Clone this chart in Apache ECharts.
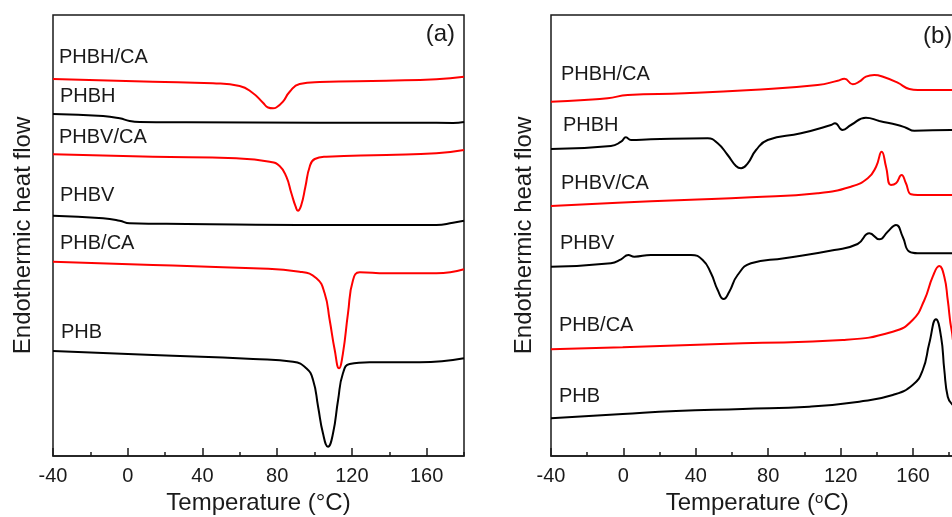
<!DOCTYPE html>
<html>
<head>
<meta charset="utf-8">
<script src="https://cdn.jsdelivr.net/npm/echarts@6/dist/echarts.min.js"></script>
<style>
  html, body { margin: 0; padding: 0; background: #fff; }
  #chart { width: 952px; height: 517px; }
</style>
</head>
<body>
<div id="chart"></div>
<script>
// temperature axis (°C)
const tempMin = -40
const tempMaxA = 180
const tempMaxB = 200
const tempStep = 40
const tempMinorStep = 20

// heat flow axis, arbitrary units
const flowMax = 44.1

// panel (a): [temperature, heat flow]
const aPHBHCA = [[-40,37.7],[13.5,37.43],[45.6,37.27],[59.9,37.0],[67.1,36.27],[72.4,35.33],[75.1,34.85],[77.8,34.77],[79.5,34.85],[83.1,35.43],[86.7,36.43],[92.0,37.2],[102.7,37.4],[138.4,37.53],[165.2,37.67],[180,37.93]]
const aPHBH = [[-40,34.2],[-13.2,34.0],[-4.3,33.77],[1.0,33.5],[6.4,33.4],[31.4,33.37],[102.7,33.33],[156.3,33.33],[174.1,33.3],[180,33.4]]
const aPHBVCA = [[-40,30.17],[13.5,29.93],[58.1,29.77],[76.0,29.43],[81.3,29.0],[84.9,27.93],[87.6,26.27],[89.9,24.93],[91.1,24.53],[92.9,25.1],[95.1,26.93],[97.4,28.93],[100.1,29.7],[106.3,29.93],[138.4,30.1],[165.2,30.27],[180,30.6]]
const aPHBV = [[-40,24.03],[-13.2,23.77],[-4.3,23.53],[1.0,23.27],[31.4,23.2],[102.7,23.1],[165.2,23.1],[174.1,23.33],[180,23.53]]
const aPHBCA = [[-40,19.43],[13.5,19.1],[67.1,18.77],[92.0,18.43],[101.0,17.77],[105.4,16.27],[108.1,13.6],[110.8,10.6],[113.1,8.77],[115.2,10.27],[117.9,14.27],[120.6,17.6],[124.2,18.37],[138.4,18.27],[165.2,18.27],[180,18.67]]
const aPHB = [[-40,10.5],[13.5,10.1],[67.1,9.7],[88.5,9.43],[95.6,8.77],[99.2,7.6],[101.9,4.93],[104.5,2.27],[107.2,0.93],[109.9,2.27],[112.6,5.6],[115.2,8.27],[118.8,9.2],[129.5,9.37],[156.3,9.37],[180,9.77]]

// panel (b)
const bPHBHCA = [[-40,35.43],[-21.6,35.6],[-8.7,35.77],[2.4,36.1],[33.7,36.27],[70.5,36.6],[107.3,37.1],[118.4,37.53],[122.1,37.73],[126.7,37.17],[130.3,37.43],[134.0,37.93],[138.6,38.1],[144.2,37.87],[151.5,37.33],[158.0,36.7],[162.6,36.6],[181.0,36.6],[196,36.6]]
const bPHBH = [[-40,30.7],[-6.9,31.0],[-1.3,31.43],[1.4,31.87],[4.2,31.6],[15.2,31.67],[46.6,31.77],[52.1,31.27],[57.6,30.1],[62.2,29.0],[65.0,28.77],[68.7,29.27],[73.3,30.6],[79.7,31.6],[98.1,32.27],[114.7,33.1],[116.9,33.27],[121.1,32.6],[125.7,33.1],[134.0,33.83],[141.4,33.5],[151.5,33.1],[156.1,32.83],[160.7,32.53],[181.0,32.6],[196,32.6]]
const bPHBVCA = [[-40,25.0],[-3.2,25.33],[33.7,25.6],[70.5,25.87],[107.3,26.27],[125.7,26.93],[135.0,27.77],[139.6,28.93],[142.7,30.43],[145.1,28.93],[147.8,27.1],[150.6,27.27],[153.7,28.1],[156.1,27.27],[158.9,26.17],[162.6,26.1],[181.0,26.1],[196,26.1]]
const bPHBV = [[-40,18.93],[-6.9,19.27],[-1.3,19.67],[2.7,20.1],[6.0,19.93],[15.2,20.1],[37.3,20.1],[43.8,19.6],[48.4,18.27],[52.1,16.6],[55.4,15.7],[58.5,16.43],[63.1,18.1],[70.5,19.27],[88.9,19.77],[116.5,20.6],[129.4,21.2],[135.9,22.27],[141.4,21.67],[146.0,22.43],[150.6,23.1],[154.3,21.93],[158.0,20.43],[162.6,20.27],[181.0,20.27],[196,20.27]]
const bPHBCA = [[-40,10.67],[-0.4,10.87],[65.9,11.27],[121.1,11.6],[148.8,12.43],[159.8,13.6],[166.3,15.6],[170.9,17.93],[174.5,19.0],[177.3,17.93],[179.2,15.6],[181.5,12.43],[184,11.2],[196,11.2]]
const bPHB = [[-40,3.77],[-0.4,4.2],[29.1,4.5],[65.9,4.7],[102.7,4.93],[130.3,5.43],[148.8,6.1],[159.8,7.1],[165.4,8.6],[169.0,11.27],[172.7,13.67],[175.5,11.93],[177.3,8.6],[179.2,5.93],[181.5,5.2],[184,5.0],[196,5.0]]

const RED = '#ff0000'
const BLACK = '#000000'
const INK = '#1a1a1a'
const FONT = '"Liberation Sans", Arial, Helvetica, sans-serif'

const chart = echarts.init(document.getElementById('chart'), null, { renderer: 'canvas' })

function curve(data, color, idx) {
  return {
    type: 'line',
    data: data,
    xAxisIndex: idx,
    yAxisIndex: idx,
    showSymbol: false,
    smooth: 0.5,
    silent: true,
    lineStyle: { color: color, width: 2 },
    itemStyle: { color: color }
  }
}

function mainX(gridIndex, max, name, extraName) {
  return Object.assign({
    type: 'value',
    gridIndex: gridIndex,
    position: 'bottom',
    min: tempMin,
    max: max,
    interval: tempStep,
    axisLine: { show: true, onZero: false, lineStyle: { color: INK, width: 1.5 } },
    axisTick: { show: true, inside: true, length: 8, lineStyle: { color: INK, width: 1.5 } },
    axisLabel: { fontSize: 20, color: INK, margin: 10, showMaxLabel: false, fontFamily: FONT },
    splitLine: { show: false },
    name: name,
    nameLocation: 'middle',
    nameGap: 34,
    nameTextStyle: { fontSize: 24, color: INK, fontFamily: FONT }
  }, extraName || {})
}

// second axis only for the 20° minor ticks
function minorX(gridIndex, max) {
  return {
    type: 'value',
    gridIndex: gridIndex,
    position: 'bottom',
    min: tempMin,
    max: max,
    interval: tempMinorStep,
    axisLine: { show: false },
    axisTick: { show: true, inside: true, length: 4, lineStyle: { color: INK, width: 1.5 } },
    axisLabel: { show: false },
    splitLine: { show: false }
  }
}

function flowY(gridIndex, gap) {
  return {
    type: 'value',
    gridIndex: gridIndex,
    min: 0,
    max: flowMax,
    axisLine: { show: false },
    axisTick: { show: false },
    axisLabel: { show: false },
    splitLine: { show: false },
    name: 'Endothermic heat flow',
    nameLocation: 'middle',
    nameGap: gap,
    nameTextStyle: { fontSize: 24, color: INK, fontFamily: FONT }
  }
}

function tag(text, x, y, size, align) {
  return {
    type: 'text',
    x: x,
    y: y,
    silent: true,
    style: {
      text: text,
      fill: INK,
      font: (size || 20) + 'px ' + FONT,
      align: align || 'left',
      verticalAlign: 'middle'
    }
  }
}

const option = {
  animation: false,
  backgroundColor: '#fff',
  textStyle: { fontFamily: FONT },
  grid: [
    { left: 53, top: 15, width: 411, height: 441, show: true, borderColor: INK, borderWidth: 1.5, outerBoundsMode: 'none' },
    { left: 551, top: 15, width: 434.4, height: 441, show: true, borderColor: INK, borderWidth: 1.5, outerBoundsMode: 'none' }
  ],
  xAxis: [
    mainX(0, tempMaxA, 'Temperature (\u00b0C)'),
    mainX(1, tempMaxB, 'Temperature ({sup|o}C)', {
      nameTextStyle: {
        fontSize: 24, color: INK, fontFamily: FONT, padding: [0, 22, 0, 0],
        rich: { sup: { fontSize: 15, color: INK, fontFamily: FONT, verticalAlign: 'top' } }
      }
    }),
    minorX(0, tempMaxA),
    minorX(1, tempMaxB)
  ],
  yAxis: [flowY(0, 18), flowY(1, 15)],
  series: [
    curve(aPHBHCA, RED, 0),
    curve(aPHBH, BLACK, 0),
    curve(aPHBVCA, RED, 0),
    curve(aPHBV, BLACK, 0),
    curve(aPHBCA, RED, 0),
    curve(aPHB, BLACK, 0),
    curve(bPHBHCA, RED, 1),
    curve(bPHBH, BLACK, 1),
    curve(bPHBVCA, RED, 1),
    curve(bPHBV, BLACK, 1),
    curve(bPHBCA, RED, 1),
    curve(bPHB, BLACK, 1)
  ],
  graphic: [
    tag('(a)', 455, 34, 24, 'right'),
    tag('PHBH/CA', 59, 57),
    tag('PHBH', 60, 96),
    tag('PHBV/CA', 59, 137),
    tag('PHBV', 60, 195),
    tag('PHB/CA', 60, 243),
    tag('PHB', 61, 332),
    tag('(b)', 923, 36, 24),
    tag('PHBH/CA', 561, 74),
    tag('PHBH', 563, 125),
    tag('PHBV/CA', 561, 183),
    tag('PHBV', 560, 243),
    tag('PHB/CA', 559, 325),
    tag('PHB', 559, 396)
  ]
}

chart.setOption(option)
</script>
</body>
</html>
